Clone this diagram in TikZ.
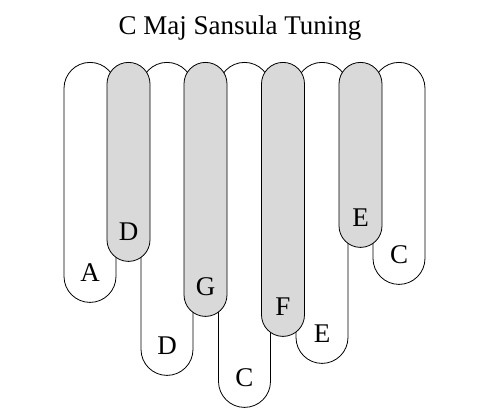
\documentclass[tikz,border=0pt]{standalone}
\usepackage{fontspec}
\setmainfont{Liberation Serif}
\usepackage{tikz}
\usetikzlibrary{positioning}

\definecolor{tinegrey}{RGB}{217,217,217}

\begin{document}
\begin{tikzpicture}[
  x=1pt, y=1pt,
  whitetine/.style={rectangle, draw, fill=white, line width=0.8pt, inner sep=0pt,
                    anchor=north, minimum width=52pt, rounded corners=26pt},
  greytine/.style={rectangle, draw, fill=tinegrey, line width=0.8pt, inner sep=0pt,
                   anchor=north, minimum width=43pt, rounded corners=21.5pt},
  note/.style={inner sep=0pt, text depth=0pt, font=\fontsize{27}{32}\selectfont},
]
\useasboundingbox (0,0) rectangle (495,418);
\node[note, anchor=base] (title) at (240,383) {C Maj Sansula Tuning};

% back row
\node[whitetine, minimum height=240pt] (wA) at (90,356) {};
\node[whitetine, minimum height=313pt] (wD) at (167,356) {};
\node[whitetine, minimum height=345pt] (wC) at (244.5,356) {};
\node[whitetine, minimum height=301pt] (wE) at (322,356) {};
\node[whitetine, minimum height=222pt] (wCh) at (399,356) {};

% front row
\node[greytine, minimum height=199pt] (gD) at (128.5,356) {};
\node[greytine, minimum height=254pt] (gG) at (205.5,356) {};
\node[greytine, minimum height=274pt] (gF) at (283,356) {};
\node[greytine, minimum height=185pt] (gE) at (360.5,356) {};

\node[note, above=21pt of wA.south] (nA) {A};
\node[note, above=21pt of wD.south] (nD) {D};
\node[note, above=21pt of wC.south] (nC) {C};
\node[note, above=21pt of wE.south] (nE) {E};
\node[note, above=21pt of wCh.south] (nCh) {C};
\node[note, above=21pt of gD.south] (nDg) {D};
\node[note, above=21pt of gG.south] (nG) {G};
\node[note, above=21pt of gF.south] (nF) {F};
\node[note, above=21pt of gE.south] (nEg) {E};
\end{tikzpicture}
\end{document}
